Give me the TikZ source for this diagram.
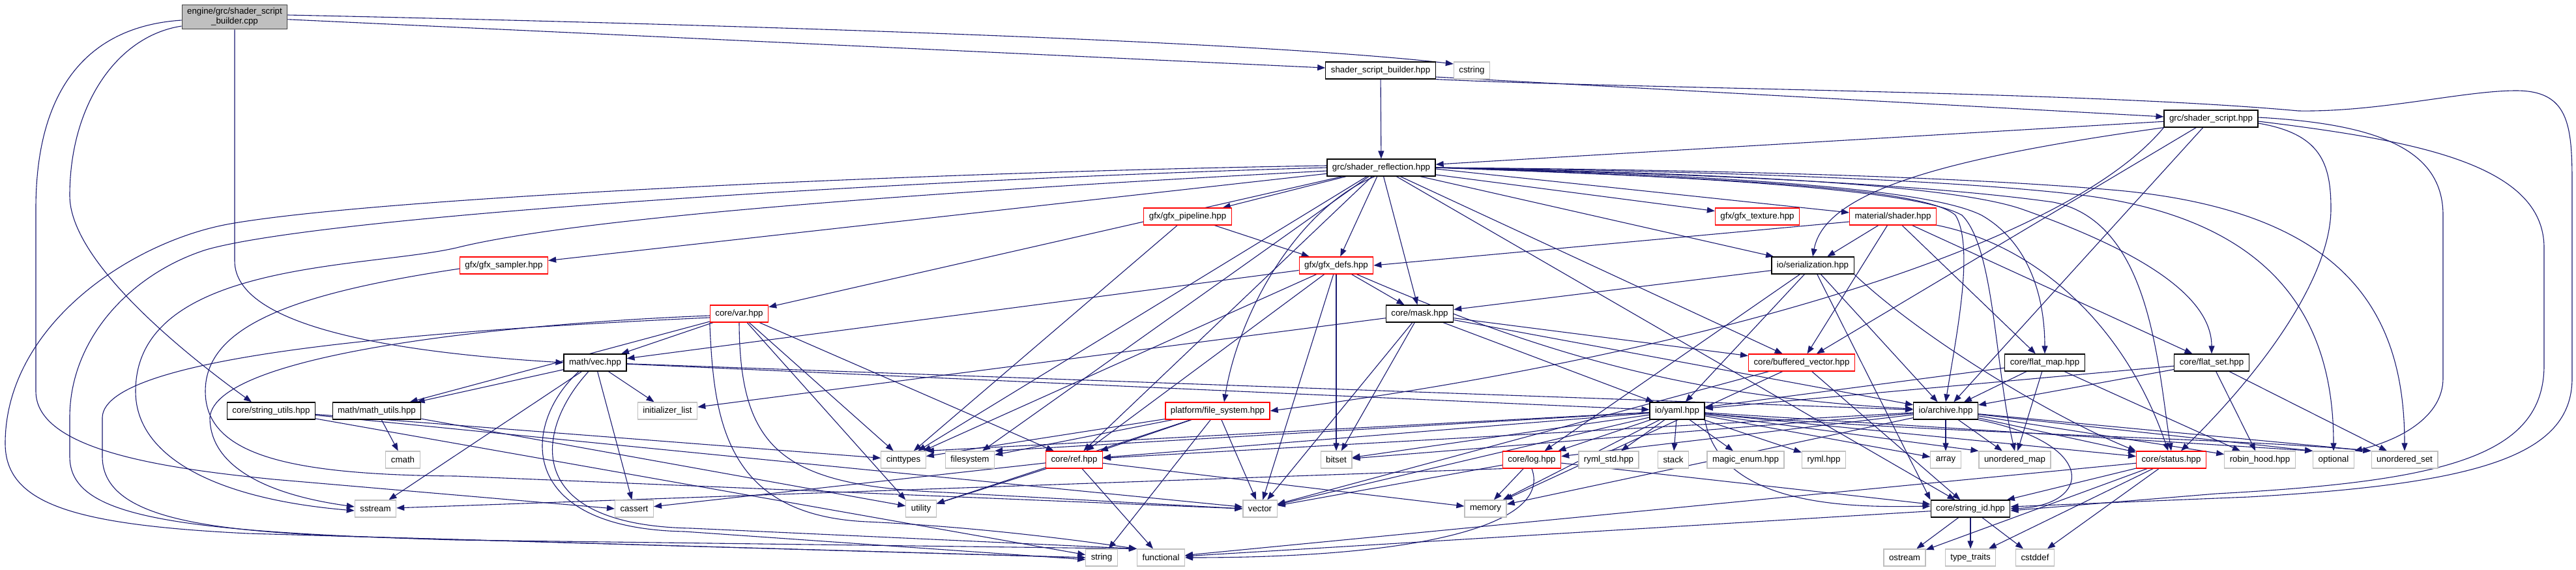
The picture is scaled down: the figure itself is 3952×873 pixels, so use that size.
\documentclass[tikz,border=0pt]{standalone}
\usepackage{fontspec}
\setmainfont{Liberation Sans}
\usetikzlibrary{arrows.meta, backgrounds}

\definecolor{incblue}{HTML}{191970}
\definecolor{sysgray}{HTML}{BFBFBF}

\begin{document}
\begin{tikzpicture}[x=1pt, y=-1pt,
    hdr/.style={rectangle, draw=black, fill=white, line width=1.2pt, minimum height=26pt, inner xsep=8pt, inner ysep=2pt, font=\fontsize{13.3}{15}\selectfont},
    hdrred/.style={hdr, draw=red},
    sysinc/.style={hdr, draw=sysgray},
    root/.style={hdr, fill=sysgray, draw=black!75, align=center, inner ysep=5pt},
    inc/.style={draw=incblue, line width=1.1pt, -{Triangle[length=12pt, width=9pt]}}
]
\useasboundingbox (0,0) rectangle (3952,873);

% files
\node[root] (main) at (360,26) {engine/grc/shader\_script\\\_builder.cpp};
\node[hdr] (ssb) at (2118,108) {shader\_script\_builder.hpp};
\node[sysinc] (cstr) at (2258,108) {cstring};
\node[hdr] (ss) at (3392,182) {grc/shader\_script.hpp};
\node[hdr] (sr) at (2119,257) {grc/shader\_reflection.hpp};
\node[hdrred] (gpipe) at (1822,332) {gfx/gfx\_pipeline.hpp};
\node[hdrred] (gtex) at (2696,332) {gfx/gfx\_texture.hpp};
\node[hdrred] (mshader) at (2904,332) {material/shader.hpp};
\node[hdrred] (gsamp) at (773,407) {gfx/gfx\_sampler.hpp};
\node[hdrred] (gdefs) at (2050,407) {gfx/gfx\_defs.hpp};
\node[hdr] (ioser) at (2781,407) {io/serialization.hpp};
\node[hdrred] (cvar) at (1134,481) {core/var.hpp};
\node[hdr] (cmask) at (2178,481) {core/mask.hpp};
\node[hdr] (mvec) at (913,556) {math/vec.hpp};
\node[hdrred] (cbvec) at (2764,556) {core/buffered\_vector.hpp};
\node[hdr] (cfmap) at (3137,556) {core/flat\_map.hpp};
\node[hdr] (cfset) at (3393,556) {core/flat\_set.hpp};
\node[hdr] (cstrutil) at (416,630) {core/string\_utils.hpp};
\node[hdr] (mmath) at (578,630) {math/math\_utils.hpp};
\node[sysinc] (initl) at (1024,630) {initializer\_list};
\node[hdrred] (pfs) at (1868,630) {platform/file\_system.hpp};
\node[hdr] (ioyaml) at (2573,630) {io/yaml.hpp};
\node[hdr] (ioarch) at (2985,630) {io/archive.hpp};
\node[sysinc] (cmath) at (618,705) {cmath};
\node[sysinc] (cint) at (1386,705) {cinttypes};
\node[sysinc] (fsys) at (1488,705) {filesystem};
\node[hdrred] (cref) at (1648,705) {core/ref.hpp};
\node[sysinc] (bitset) at (2050,705) {bitset};
\node[hdrred] (clog) at (2350,705) {core/log.hpp};
\node[sysinc] (rymlstd) at (2468,705) {ryml\_std.hpp};
\node[sysinc] (stack) at (2567,705) {stack};
\node[sysinc] (magic) at (2678,705) {magic\_enum.hpp};
\node[sysinc] (ryml) at (2798,705) {ryml.hpp};
\node[sysinc] (array) at (2985,705) {array};
\node[sysinc] (umap) at (3091,705) {unordered\_map};
\node[hdrred] (cstatus) at (3331,705) {core/status.hpp};
\node[sysinc] (robin) at (3467,705) {robin\_hood.hpp};
\node[sysinc] (optional) at (3580,705) {optional};
\node[sysinc] (uset) at (3689,705) {unordered\_set};
\node[sysinc] (sstream) at (576,780) {sstream};
\node[sysinc] (cassert) at (973,780) {cassert};
\node[sysinc] (utility) at (1413,780) {utility};
\node[sysinc] (vector) at (1933,780) {vector};
\node[sysinc] (memory) at (2279,780) {memory};
\node[hdr] (csid) at (3023,780) {core/string\_id.hpp};
\node[sysinc] (string) at (1690,855) {string};
\node[sysinc] (functional) at (1781,855) {functional};
\node[sysinc] (ostream) at (2922,855) {ostream};
\node[sysinc] (ttraits) at (3023,855) {type\_traits};
\node[sysinc] (cstddef) at (3122,855) {cstddef};

\begin{scope}[on background layer]
% plain includes
\foreach \s/\t in {main/ssb, ssb/sr, ss/sr, ss/cbvec, ss/ioarch,
    sr/gsamp, sr/cvar, sr/gpipe, sr/gdefs, sr/gtex, sr/ioser, sr/cmask, sr/cbvec, sr/cref, sr/cint, sr/fsys, sr/csid,
    gpipe/gdefs, gpipe/cint,
    mshader/ioser, mshader/cbvec, mshader/cfmap, mshader/cfset,
    gdefs/mvec, gdefs/cmask, gdefs/cref, gdefs/vector, gdefs/bitset, gdefs/cint,
    cmask/initl, cmask/bitset, cmask/vector, cmask/ioyaml, cmask/cbvec, cmask/ioarch,
    ioser/cmask, ioser/ioyaml, ioser/clog, ioser/ioarch,
    cbvec/memory, cbvec/vector, cbvec/csid,
    cfmap/ioyaml, cfmap/ioarch, cfmap/umap, cfmap/robin,
    cfset/ioarch, cfset/ioyaml, cfset/robin, cfset/uset,
    mvec/mmath, mvec/sstream, mvec/cassert, mvec/initl, mvec/ioyaml, mvec/ioarch,
    cstrutil/cint, cstrutil/string, cstrutil/vector,
    mmath/cmath, mmath/utility,
    cvar/mvec, cvar/mmath, cvar/cint, cvar/cref,
    pfs/fsys, pfs/cint, pfs/cref, pfs/utility, pfs/string, pfs/vector,
    ioyaml/bitset, ioyaml/cref, ioyaml/clog, ioyaml/rymlstd, ioyaml/stack, ioyaml/magic, ioyaml/ryml, ioyaml/array, ioyaml/cstatus, ioyaml/vector, ioyaml/memory,
    ioarch/array, ioarch/umap, ioarch/cstatus, ioarch/robin, ioarch/cref, ioarch/clog, ioarch/bitset, ioarch/memory,
    cref/cassert, cref/utility, cref/functional, cref/memory,
    clog/memory, clog/vector, clog/csid,
    cstatus/csid, cstatus/functional, cstatus/ostream, cstatus/ttraits, cstatus/cstddef,
    csid/ttraits, csid/cstddef, csid/ostream, csid/functional}
    \draw[inc] (\s) -- (\t);
\foreach \s/\t/\a in {ioyaml/cint/north east, ioyaml/fsys/north east, ioyaml/umap/north west, ioyaml/optional/north west,
    ioarch/optional/north west, ioarch/uset/north west, cvar/utility/north west, ioser/csid/north west}
    \draw[inc] (\s) -- (\t.\a);

% routed includes
\draw[inc] ([yshift=3pt]main.east) .. controls (1000,35) and (1900,60) .. ([yshift=10pt]cstr.west);
\draw[inc] ([yshift=-5pt]main.west) .. controls (140,40) and (55,130) .. (55,320) -- (55,600) .. controls (55,690) and (250,718) .. (420,735) -- (cassert.west);
\draw[inc] ([yshift=-14pt]main.west) .. controls (180,55) and (107,160) .. (107,300) .. controls (107,400) and (280,540) .. ([xshift=-30pt]cstrutil.north);
\draw[inc] (main.south) -- (360,400) .. controls (360,500) and (600,540) .. (mvec.west);
\draw[inc] ([yshift=-10pt]ssb.east) -- ([yshift=3pt]ss.west);
\draw[inc] (ssb.south east) .. controls (2500,136) and (3200,140) .. (3526,170) .. controls (3650,172) and (3780,139) .. (3860,139) .. controls (3940,139) and (3946,190) .. (3946,280) -- (3946,580) .. controls (3946,700) and (3800,742) .. (3450,762) -- ([yshift=3pt]csid.east);
\draw[inc] ([yshift=-4pt]ss.east) .. controls (3700,215) and (3903,250) .. (3903,380) -- (3903,560) .. controls (3903,700) and (3750,738) .. (3400,757) -- ([yshift=-3pt]csid.east);
\draw[inc] ([yshift=2pt]ss.east) .. controls (3650,190) and (3748,230) .. (3748,330) -- (3748,580) .. controls (3748,640) and (3680,675) .. (optional.north east);
\draw[inc] ([yshift=-7pt]ss.east) .. controls (3560,205) and (3576,250) .. (3576,320) .. controls (3576,420) and (3480,560) .. ([xshift=15pt]cstatus.north);
\draw[inc] (ss.south west) .. controls (3000,240) and (2800,290) .. (ioser.north);
\draw[inc] (ss.south west) .. controls (3150,400) and (2500,560) .. (pfs.east);
\draw[inc] ([yshift=-2pt]sr.east) -- ([yshift=6pt]mshader.west);
\draw[inc] (sr.east) .. controls (2600,268) and (2950,285) .. (3040,330) .. controls (3110,370) and (3137,450) .. (cfmap.north);
\draw[inc] (sr.east) .. controls (2600,265) and (2980,280) .. (3100,320) .. controls (3300,390) and (3393,460) .. (cfset.north);
\draw[inc] (sr.east) .. controls (2600,270) and (2940,290) .. (3010,330) .. controls (3060,380) and (3060,560) .. (umap.north);
\draw[inc] (sr.east) .. controls (2600,272) and (2950,285) .. (3000,330) .. controls (3030,380) and (3000,520) .. (ioarch.north);
\draw[inc] (sr.east) .. controls (2600,262) and (3000,275) .. (3200,300) .. controls (3500,340) and (3580,500) .. (optional.north);
\draw[inc] (sr.east) .. controls (2600,260) and (3000,270) .. (3250,292) .. controls (3600,325) and (3689,480) .. (uset.north);
\draw[inc] (sr.east) .. controls (2600,266) and (2950,282) .. (3150,310) .. controls (3300,340) and (3310,560) .. (cstatus.north);
\draw[inc] ([yshift=3pt]sr.west) .. controls (1500,262) and (600,300) .. (354,343) .. controls (200,370) and (8,500) .. (8,680) .. controls (8,775) and (120,805) .. (380,818) -- (string.west);
\draw[inc] (sr.west) .. controls (1400,275) and (500,330) .. (316,383) .. controls (200,420) and (107,520) .. (107,640) -- (107,700) .. controls (107,790) and (250,815) .. (700,828) -- (functional.north west);
\draw[inc] ([yshift=-5pt]sr.west) .. controls (1500,290) and (900,330) .. (700,380) .. controls (560,412) and (208,400) .. (208,600) .. controls (208,700) and (330,765) .. ([yshift=-3pt]sstream.west);
\draw[inc] ([xshift=-10pt]sr.south) .. controls (1990,320) and (1900,480) .. ([xshift=10pt]pfs.north);
\draw[inc] ([yshift=-8pt]mshader.west) -- (gdefs.east);
\draw[inc] (mshader) .. controls (3121,375) and (3259,495) .. (cstatus);
\draw[inc] (gdefs) .. controls (2395,556) and (2610,608) .. (ioarch);
\draw[inc] (ioser.south east) .. controls (2950,520) and (3150,640) .. (cstatus.north west);
\draw[inc] ([yshift=-5pt]gsamp.west) .. controls (450,450) and (315,500) .. (315,600) .. controls (315,700) and (450,728) .. (700,730) -- (vector.west);
\draw[inc] ([yshift=-3pt]cvar.west) .. controls (800,495) and (330,540) .. (322,640) .. controls (322,720) and (420,760) .. ([yshift=3pt]sstream.west);
\draw[inc] ([yshift=-6pt]cvar.west) .. controls (700,505) and (160,540) .. (157,640) -- (157,700) .. controls (157,790) and (300,812) .. (520,822) -- (string.west);
\draw[inc] (cvar.south west) .. controls (1095,640) and (1110,790) .. (1330,800) .. controls (1500,808) and (1650,828) .. (functional.north west);
\draw[inc] (cvar.south) .. controls (1135,690) and (1200,745) .. (1450,755) -- (vector.west);
\draw[inc] ([xshift=-25pt]mvec.south) .. controls (800,650) and (790,810) .. (1050,815) -- ([yshift=-3pt]string.west);
\draw[inc] ([xshift=-10pt]mvec.south) .. controls (820,660) and (800,805) .. (1060,810) -- (functional.north west);
\draw[inc] (ioyaml) .. controls (2950,665) and (3400,670) .. (uset.north west);
\draw[inc] (ioyaml.south east) .. controls (2640,780) and (2850,778) .. ([yshift=4pt]csid.west);
\draw[inc] (ioarch.south east) .. controls (3220,680) and (3210,775) .. (csid.east);
\draw[inc] (clog.south) .. controls (2380,800) and (2200,855) .. (functional.east);
\draw[inc] (clog.south west) -- (sstream);
\end{scope}
\end{tikzpicture}
\end{document}
